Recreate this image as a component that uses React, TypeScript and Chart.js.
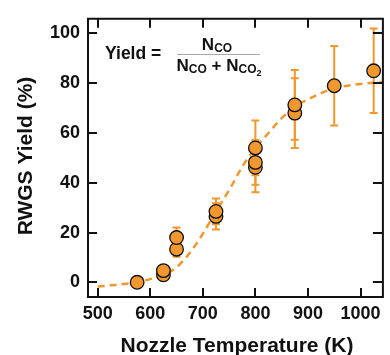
import React, { useEffect, useRef } from "react";
import { Chart, registerables } from "chart.js";

Chart.register(...registerables);

// Measured data
const tempK = [575, 625, 625, 650, 650, 725, 725, 800, 800, 800, 875, 875, 950, 1025];
const yieldPct = [0, 3, 4.7, 13.3, 18, 26.5, 28.5, 46.2, 48.2, 54, 68, 71.3, 79, 85];
const yieldErr = [1, 1, 1.5, 3, 4, 5.3, 5.2, 10, 9, 11, 14, 14, 16, 17];

// Fitted curve (dashed)
const fitTempK = [500, 525, 550, 575, 600, 625, 650, 675, 700, 725, 750, 775, 800, 825, 850, 875, 900, 925, 950, 975, 1000, 1025, 1041];
const fitYield = [-1.7, -1.2, -0.7, 0, 1.3, 3, 6, 11.8, 19.5, 28.5, 37, 46.5, 54, 60, 66, 70.5, 73.5, 76, 78, 79, 79.7, 80.2, 80.5];

// Axis ticks
const xTicks = [500, 600, 700, 800, 900, 1000];
const yTicks = [0, 20, 40, 60, 80, 100];

const ORANGE = "#F0982F";
const INK = "#111111";
const FONT = "'Liberation Sans', Arial, sans-serif";

const errorBarPlugin = {
  id: "errorBars",
  afterDatasetDraw(chart: any, args: any) {
    if (args.index !== 1) return;
    const { ctx } = chart;
    const xs = chart.scales.x;
    const ys = chart.scales.y;
    ctx.save();
    ctx.strokeStyle = ORANGE;
    ctx.lineWidth = 2;
    for (let i = 0; i < tempK.length; i++) {
      const px = xs.getPixelForValue(tempK[i]);
      const top = ys.getPixelForValue(yieldPct[i] + yieldErr[i]);
      const bot = ys.getPixelForValue(yieldPct[i] - yieldErr[i]);
      ctx.beginPath();
      ctx.moveTo(px, top);
      ctx.lineTo(px, bot);
      ctx.moveTo(px - 4, top);
      ctx.lineTo(px + 4, top);
      ctx.moveTo(px - 4, bot);
      ctx.lineTo(px + 4, bot);
      ctx.stroke();
    }
    ctx.restore();
  },
};

const framePlugin = {
  id: "frame",
  afterDraw(chart: any) {
    const { ctx, chartArea } = chart;
    const { left, right, top, bottom } = chartArea;
    const xs = chart.scales.x;
    const ys = chart.scales.y;
    ctx.save();
    ctx.strokeStyle = INK;
    ctx.lineWidth = 2;
    ctx.beginPath();
    ctx.moveTo(left, top);
    ctx.lineTo(right + 2, top);
    ctx.moveTo(left, top - 1);
    ctx.lineTo(left, bottom + 1);
    ctx.moveTo(left - 1, bottom);
    ctx.lineTo(right + 2, bottom);
    ctx.moveTo(right + 1, top);
    ctx.lineTo(right + 1, bottom);
    const tl = 9;
    xTicks.forEach((v) => {
      const px = Math.round(xs.getPixelForValue(v));
      ctx.moveTo(px, bottom);
      ctx.lineTo(px, bottom - tl);
      ctx.moveTo(px, top);
      ctx.lineTo(px, top + tl);
    });
    yTicks.forEach((v) => {
      const py = Math.round(ys.getPixelForValue(v));
      ctx.moveTo(left, py);
      ctx.lineTo(left + tl, py);
      ctx.moveTo(right, py);
      ctx.lineTo(right - tl, py);
    });
    ctx.stroke();

    // Axis titles
    ctx.fillStyle = INK;
    ctx.font = `bold 21px ${FONT}`;
    ctx.textAlign = "center";
    ctx.textBaseline = "alphabetic";
    ctx.fillText("Nozzle Temperature (K)", 237, 351.5);
    ctx.save();
    ctx.translate(32, 156);
    ctx.rotate(-Math.PI / 2);
    ctx.fillText("RWGS Yield (%)", 0, 0);
    ctx.restore();

    // Yield formula
    ctx.textAlign = "left";
    ctx.font = `bold 17.5px ${FONT}`;
    ctx.fillText("Yield =", 105, 58.5);

    const big = `bold 17px ${FONT}`;
    const sub = `bold 12px ${FONT}`;
    const sub2 = `bold 9px ${FONT}`;
    // numerator
    ctx.font = big;
    const wN = ctx.measureText("N").width;
    ctx.font = sub;
    const wCO = ctx.measureText("CO").width;
    let nx = 217 - (wN + wCO) / 2;
    ctx.font = big;
    ctx.fillText("N", nx, 49.5);
    ctx.font = sub;
    ctx.fillText("CO", nx + wN, 52);
    // fraction line
    ctx.strokeStyle = "#a8a8a8";
    ctx.lineWidth = 1;
    ctx.beginPath();
    ctx.moveTo(177, 54.5);
    ctx.lineTo(260, 54.5);
    ctx.stroke();
    // denominator
    ctx.font = big;
    const wPlus = ctx.measureText(" + ").width;
    ctx.font = sub2;
    const w2 = ctx.measureText("2").width;
    const total = wN + wCO + wPlus + wN + wCO + w2;
    let dx = 219 - total / 2;
    const by = 70.5;
    ctx.font = big;
    ctx.fillText("N", dx, by);
    dx += wN;
    ctx.font = sub;
    ctx.fillText("CO", dx, by + 2.5);
    dx += wCO;
    ctx.font = big;
    ctx.fillText(" + ", dx, by);
    dx += wPlus;
    ctx.fillText("N", dx, by);
    dx += wN;
    ctx.font = sub;
    ctx.fillText("CO", dx, by + 2.5);
    dx += wCO;
    ctx.font = sub2;
    ctx.fillText("2", dx, by + 5);
    ctx.restore();
  },
};

export default function App() {
  const ref = useRef<HTMLCanvasElement | null>(null);

  useEffect(() => {
    if (!ref.current) return;
    const chart = new Chart(ref.current, {
      type: "scatter",
      data: {
        datasets: [
          {
            type: "scatter",
            data: tempK.map((x, i) => ({ x, y: yieldPct[i] })),
            pointRadius: 6.8,
            pointBackgroundColor: ORANGE,
            pointBorderColor: INK,
            pointBorderWidth: 1.3,
          } as any,
          {
            type: "line",
            data: fitTempK.map((x, i) => ({ x, y: fitYield[i] })),
            borderColor: ORANGE,
            borderWidth: 2.5,
            borderDash: [7, 5],
            pointRadius: 0,
            fill: false,
            cubicInterpolationMode: "monotone",
          } as any,
        ],
      },
      options: {
        animation: false,
        responsive: false,
        maintainAspectRatio: false,
        layout: { padding: { top: 14, right: 0, left: 0, bottom: 0 } },
        plugins: {
          legend: { display: false },
          tooltip: { enabled: false },
        },
        scales: {
          x: {
            type: "linear",
            min: 481.5,
            max: 1040.7,
            grid: { display: false, drawTicks: false },
            border: { display: false },
            afterBuildTicks: (s: any) => {
              s.ticks = xTicks.map((v) => ({ value: v }));
            },
            afterFit: (s: any) => {
              s.height = 58;
            },
            ticks: {
              color: INK,
              padding: 6,
              maxRotation: 0,
              autoSkip: false,
              callback: (v: any) => String(v),
              font: { family: FONT, size: 18, weight: "bold" },
            },
          },
          y: {
            type: "linear",
            min: -5.9,
            max: 105.9,
            grid: { display: false, drawTicks: false },
            border: { display: false },
            afterBuildTicks: (s: any) => {
              s.ticks = yTicks.map((v) => ({ value: v }));
            },
            afterFit: (s: any) => {
              s.width = 88;
            },
            ticks: {
              color: INK,
              padding: 8,
              autoSkip: false,
              callback: (v: any) => String(v),
              font: { family: FONT, size: 18, weight: "bold" },
            },
          },
        },
      } as any,
      plugins: [errorBarPlugin, framePlugin],
    });
    return () => chart.destroy();
  }, []);

  return (
    <div
      style={{
        position: "absolute",
        left: 0,
        top: 0,
        width: 390,
        height: 355,
        overflow: "hidden",
        background: "#fff",
      }}
    >
      <canvas ref={ref} width={390} height={355} style={{ display: "block" }} />
    </div>
  );
}
